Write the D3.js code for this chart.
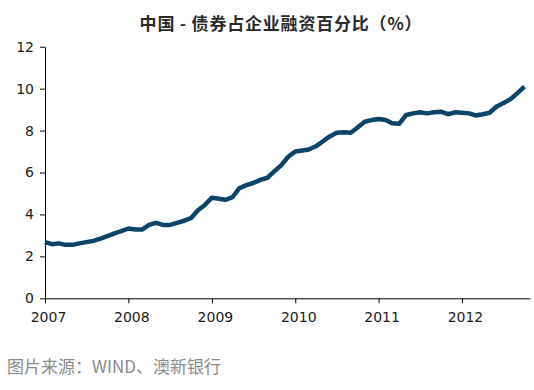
<html>
  <head>
    <meta charset="utf-8" />
    <script src="https://d3js.org/d3.v7.min.js"></script>
    <style>
      body { margin: 0; background: #fff; }
    </style>
  </head>
  <body>
    <svg id="chart" width="534" height="390"></svg>
    <script>
      // monthly, Jan 2007 .. Oct 2012
      const months = d3.range(0, 70).map((i) => {
        const yr = 2007 + Math.floor(i / 12);
        const m = (i % 12) + 1;
        return `${yr}-${String(m).padStart(2, "0")}`;
      });
      const share = [
        2.68, 2.58, 2.62, 2.55, 2.55, 2.62, 2.68, 2.74, 2.85, 2.97, 3.1, 3.2,
        3.33, 3.28, 3.28, 3.5, 3.6, 3.5, 3.5, 3.6, 3.7, 3.82, 4.2, 4.45,
        4.8, 4.75, 4.7, 4.82, 5.25, 5.4, 5.5, 5.65, 5.75, 6.05, 6.35, 6.75,
        7.0, 7.05, 7.1, 7.25, 7.48, 7.72, 7.9, 7.92, 7.9, 8.15, 8.42, 8.5,
        8.55, 8.5, 8.35, 8.32, 8.74, 8.82, 8.87, 8.82, 8.87, 8.9, 8.78, 8.87,
        8.85, 8.82, 8.72, 8.78, 8.85, 9.15, 9.32, 9.5, 9.8, 10.1,
      ];
      const yTicks = [0, 2, 4, 6, 8, 10, 12];
      const title = "中国 - 债券占企业融资百分比（%）";
      const source = "图片来源：WIND、澳新银行";

      const parseMonth = d3.timeParse("%Y-%m");
      const data = months.map((m, i) => ({ date: parseMonth(m), value: share[i] }));

      const svg = d3.select("#chart");
      const mLeft = 45, mRight = 530, mTop = 46.7, mBottom = 298.3;

      const x = d3
        .scaleTime()
        .domain([new Date(2007, 0, 1), new Date(2012, 9, 25)])
        .range([mLeft, mRight]);
      const y = d3.scaleLinear().domain([0, 12]).range([mBottom, mTop]);

      svg.append("text")
        .attr("x", 281)
        .attr("y", 30)
        .attr("text-anchor", "middle")
        .style("font-family", "'Noto Sans CJK SC', sans-serif")
        .style("font-weight", "bold")
        .style("font-size", "17px")
        .style("letter-spacing", "0.8px")
        .style("fill", "#2a2a2a")
        .text(title);

      const yAxis = svg.append("g")
        .attr("transform", `translate(${mLeft},0)`)
        .call(d3.axisLeft(y).tickValues(yTicks).tickSize(5).tickPadding(6).tickSizeOuter(0));
      const xAxis = svg.append("g")
        .attr("transform", `translate(0,${mBottom})`)
        .call(
          d3.axisBottom(x)
            .ticks(d3.timeYear.every(1))
            .tickFormat(d3.timeFormat("%Y"))
            .tickSize(5)
            .tickPadding(9)
            .tickSizeOuter(0)
        );

      [yAxis, xAxis].forEach((g) => {
        g.select(".domain").attr("stroke", "#000");
        g.selectAll(".tick line").attr("stroke", "#000");
        g.selectAll("text")
          .style("font-family", "'DejaVu Sans', Verdana, sans-serif")
          .style("font-size", "14px")
          .style("fill", "#1a1a1a");
      });
      xAxis.selectAll("text").attr("dx", "3");

      const line = d3
        .line()
        .x((d) => x(d.date))
        .y((d) => y(d.value));

      svg.append("path")
        .datum(data)
        .attr("d", line)
        .attr("fill", "none")
        .attr("stroke", "#0c4467")
        .attr("stroke-width", 4.5)
        .attr("stroke-linejoin", "round");

      svg.append("text")
        .attr("x", 7)
        .attr("y", 373)
        .style("font-family", "'Noto Sans CJK SC', sans-serif")
        .style("font-size", "17px")
        .style("fill", "#8a8a8a")
        .text(source);
    </script>
  </body>
</html>
